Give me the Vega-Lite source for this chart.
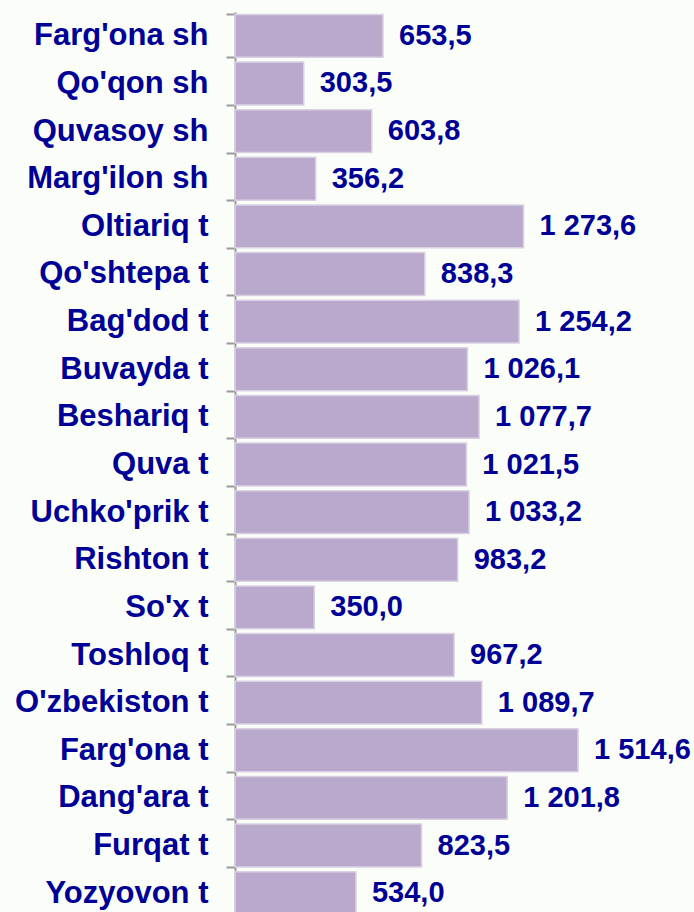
{
  "$schema": "https://vega.github.io/schema/vega-lite/v6.json",
  "width": 453,
  "height": 905,
  "padding": {"left": 235, "top": 12, "right": 6, "bottom": 0},
  "autosize": {"type": "none"},
  "background": "#fbfdf8",
  "config": {
    "view": {"stroke": null},
    "locale": {"number": {"decimal": ",", "thousands": " ", "grouping": [3], "currency": ["", ""]}}
  },
  "data": {
    "values": [
      {"region": "Farg'ona sh", "value": 653.5},
      {"region": "Qo'qon sh", "value": 303.5},
      {"region": "Quvasoy sh", "value": 603.8},
      {"region": "Marg'ilon sh", "value": 356.2},
      {"region": "Oltiariq t", "value": 1273.6},
      {"region": "Qo'shtepa t", "value": 838.3},
      {"region": "Bag'dod t", "value": 1254.2},
      {"region": "Buvayda t", "value": 1026.1},
      {"region": "Beshariq t", "value": 1077.7},
      {"region": "Quva t", "value": 1021.5},
      {"region": "Uchko'prik t", "value": 1033.2},
      {"region": "Rishton t", "value": 983.2},
      {"region": "So'x t", "value": 350.0},
      {"region": "Toshloq t", "value": 967.2},
      {"region": "O'zbekiston t", "value": 1089.7},
      {"region": "Farg'ona t", "value": 1514.6},
      {"region": "Dang'ara t", "value": 1201.8},
      {"region": "Furqat t", "value": 823.5},
      {"region": "Yozyovon t", "value": 534.0}
    ]
  },
  "encoding": {
    "y": {
      "field": "region",
      "type": "nominal",
      "sort": null,
      "scale": {"paddingInner": 0.1, "paddingOuter": 0.05},
      "axis": {
        "title": null,
        "domainColor": "#9a9a9a",
        "domainWidth": 2,
        "tickColor": "#9a9a9a",
        "tickWidth": 2,
        "tickSize": 9,
        "tickBand": "extent",
        "labelFont": "Liberation Sans",
        "labelFontWeight": "bold",
        "labelFontSize": 31,
        "labelColor": "#000096",
        "labelPadding": 18,
        "labelLimit": 300
      }
    },
    "x": {
      "field": "value",
      "type": "quantitative",
      "scale": {"domain": [0, 2000]},
      "axis": null
    }
  },
  "layer": [
    {
      "mark": {"type": "bar", "color": "#b9a9cd", "stroke": "#d9d1e3", "strokeWidth": 1.5}
    },
    {
      "mark": {
        "type": "text",
        "align": "left",
        "baseline": "middle",
        "dx": 16,
        "font": "Liberation Sans",
        "fontWeight": "bold",
        "fontSize": 29,
        "color": "#000096"
      },
      "encoding": {
        "text": {"field": "value", "type": "quantitative", "format": ",.1f"}
      }
    }
  ]
}
